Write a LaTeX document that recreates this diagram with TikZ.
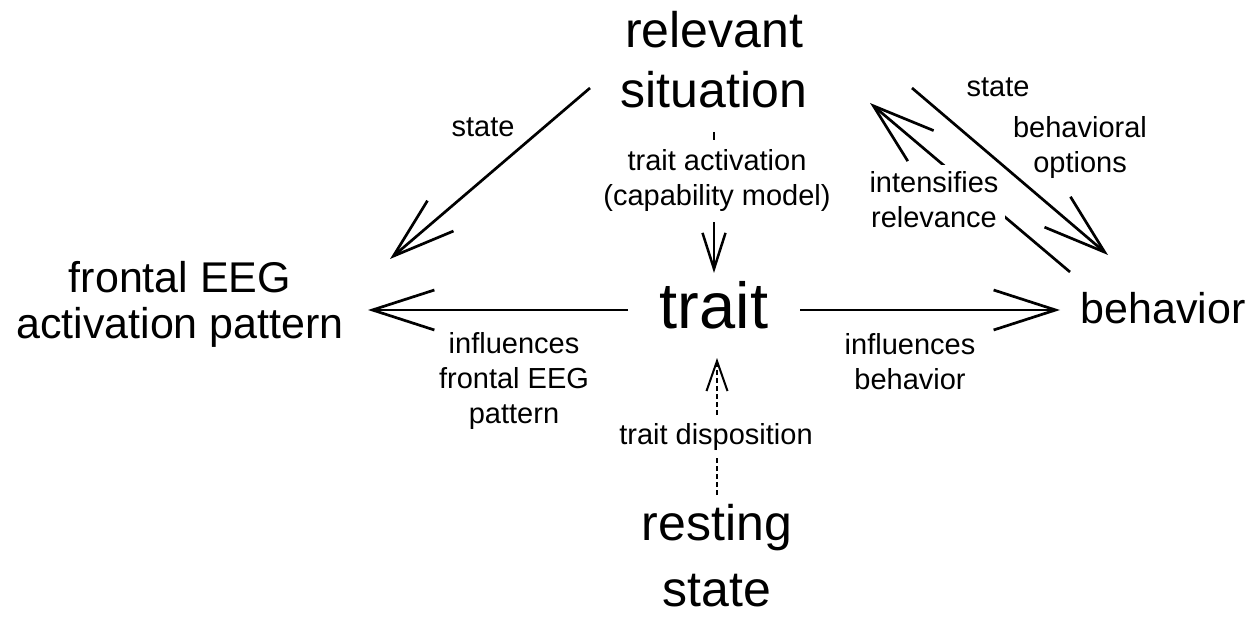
\documentclass[tikz,border=0pt]{standalone}
\usepackage{fontspec}
\setmainfont{Liberation Sans}
\usetikzlibrary{arrows.meta}

\begin{document}
\begin{tikzpicture}[x=1pt, y=-1pt,
	bignode/.style = {inner sep=0pt, align=center, font=\fontsize{50}{60}\selectfont},
	midnode/.style = {inner sep=0pt, align=center, font=\fontsize{43}{46}\selectfont},
	lbl/.style = {inner sep=0pt, align=center, font=\fontsize{29}{35}\selectfont},
	wlbl/.style = {lbl, fill=white, inner sep=7pt},
	bigarr/.style = {line width=2.7pt, -{Straight Barb[length=62pt, width=40pt]}},
	smallarr/.style = {line width=2.5pt, -{Straight Barb[length=36pt, width=23pt]}},
	disparr/.style = {line width=2pt, dash pattern=on 5pt off 3pt, -{Straight Barb[length=30pt, width=21pt]}}]
	\useasboundingbox (0,0) rectangle (1255,620);

	% main nodes
	\node [bignode] (sit) at (714,60) {relevant\\situation};
	\node [midnode] (eeg) at (180,304) {frontal EEG\\activation pattern};
	\node [inner sep=0pt, font=\fontsize{65}{70}\selectfont] (trait) at (714,305) {trait};
	\node [midnode] (beh) at (1163,308) {behavior};
	\node [bignode, font=\fontsize{50}{66}\selectfont] (rest) at (717,556) {resting\\state};

	% arrows
	\draw [bigarr] ([shift={(-124,28)}]sit.center) -- ([shift={(210,-45)}]eeg.center);
	\draw [bigarr] ([shift={(-86,5)}]trait.center) -- ([shift={(188,6)}]eeg.center);
	\draw [bigarr] ([shift={(86,5)}]trait.center) -- ([shift={(-103,2)}]beh.center);
	\draw [bigarr] ([shift={(-93,-36)}]beh.center) -- ([shift={(156,43)}]sit.center);
	\draw [smallarr] ([shift={(0,72)}]sit.center) -- ([shift={(0,-32)}]trait.center);
	\draw [disparr] ([shift={(0,-61)}]rest.center) -- ([shift={(3,53)}]trait.center);

	% labels
	\node [lbl] (lstate) at (483,127) {state};
	\node [wlbl, inner sep=10pt] (act) at (717,181) {trait activation\\(capability model)};
	\node [lbl] (rstate) at (998,87) {state};
	\node [lbl] (opts) at (1080,148) {behavioral\\options};
	\node [wlbl] (intens) at (934,200) {intensifies\\relevance};
	\node [lbl] (infleeg) at (514,381) {influences\\frontal EEG\\pattern};
	\node [lbl] (inflbeh) at (910,362) {influences\\behavior};
	\node [wlbl, inner sep=5pt] (disp) at (716,437) {trait disposition};

	% drawn last, runs past the white label box
	\draw [bigarr] ([shift={(198,28)}]sit.center) -- ([shift={(-55,-53)}]beh.center);
\end{tikzpicture}
\end{document}
